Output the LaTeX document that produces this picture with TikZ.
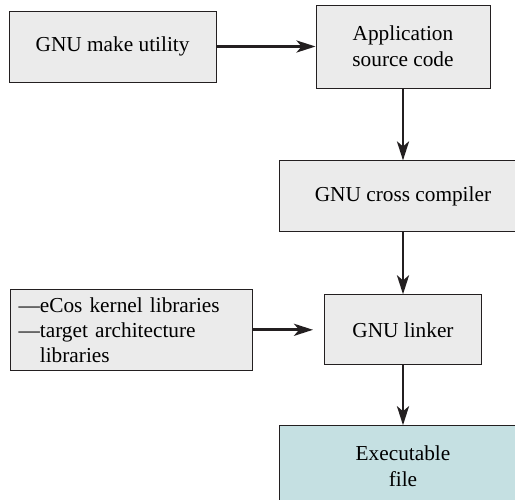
\documentclass[tikz,border=0pt]{standalone}
\usepackage{xcolor}
\usepackage{tikz}
\usepackage{fontspec}
\setmainfont{Liberation Serif}
\usetikzlibrary{
  arrows.meta,
  positioning
}
\definecolor{bdFill}{HTML}{EBEBEB}
\definecolor{bdExe}{HTML}{C5E0E2}
\definecolor{bdInk}{HTML}{231F20}
\tikzset{
  bdnode/.style={
    draw=bdInk, line width=0.9pt, inner sep=8pt, align=center,
    font=\fontsize{21.3}{26}\selectfont, fill=bdFill
  },
  toolbox/.style={bdnode, minimum width=207pt, minimum height=71pt},
  srcbox/.style={bdnode, minimum width=174pt, minimum height=83pt},
  widebox/.style={bdnode, minimum width=248pt, minimum height=71pt},
  linkbox/.style={bdnode, minimum width=157pt, minimum height=70pt},
  libbox/.style={bdnode, text width=226pt, align=left, minimum height=81pt,
    font=\fontsize{21.3}{25}\selectfont},
  exebox/.style={bdnode, fill=bdExe, minimum width=248pt, minimum height=81pt},
  flow/.style={-{Stealth[length=19pt, width=12pt, inset=5pt]}, line width=2.8pt, bdInk}
}
\begin{document}
\begin{tikzpicture}[node distance=60pt]
  \useasboundingbox (0,0) rectangle (515pt,-499pt);
  \node[srcbox] (app) at (403pt,-46.5pt) {Application\\source code};
  \node[toolbox, left=99pt of app] (make) {GNU make utility};
  \node[widebox, below=72pt of app] (cc) {GNU cross compiler};
  \node[linkbox, below=62pt of cc] (ld) {GNU linker};
  \node[libbox, left=71pt of ld] (libs) {---eCos kernel libraries\\---target architecture\\\phantom{---}libraries};
  \node[exebox, below=60pt of ld] (exe) {Executable\\file};
  \draw[flow] (make) -- (app);
  \draw[flow] (app) -- (cc);
  \draw[flow] (cc) -- (ld);
  \draw[flow, shorten >=11pt] (libs) -- (ld);
  \draw[flow] (ld) -- (exe);
\end{tikzpicture}
\end{document}
